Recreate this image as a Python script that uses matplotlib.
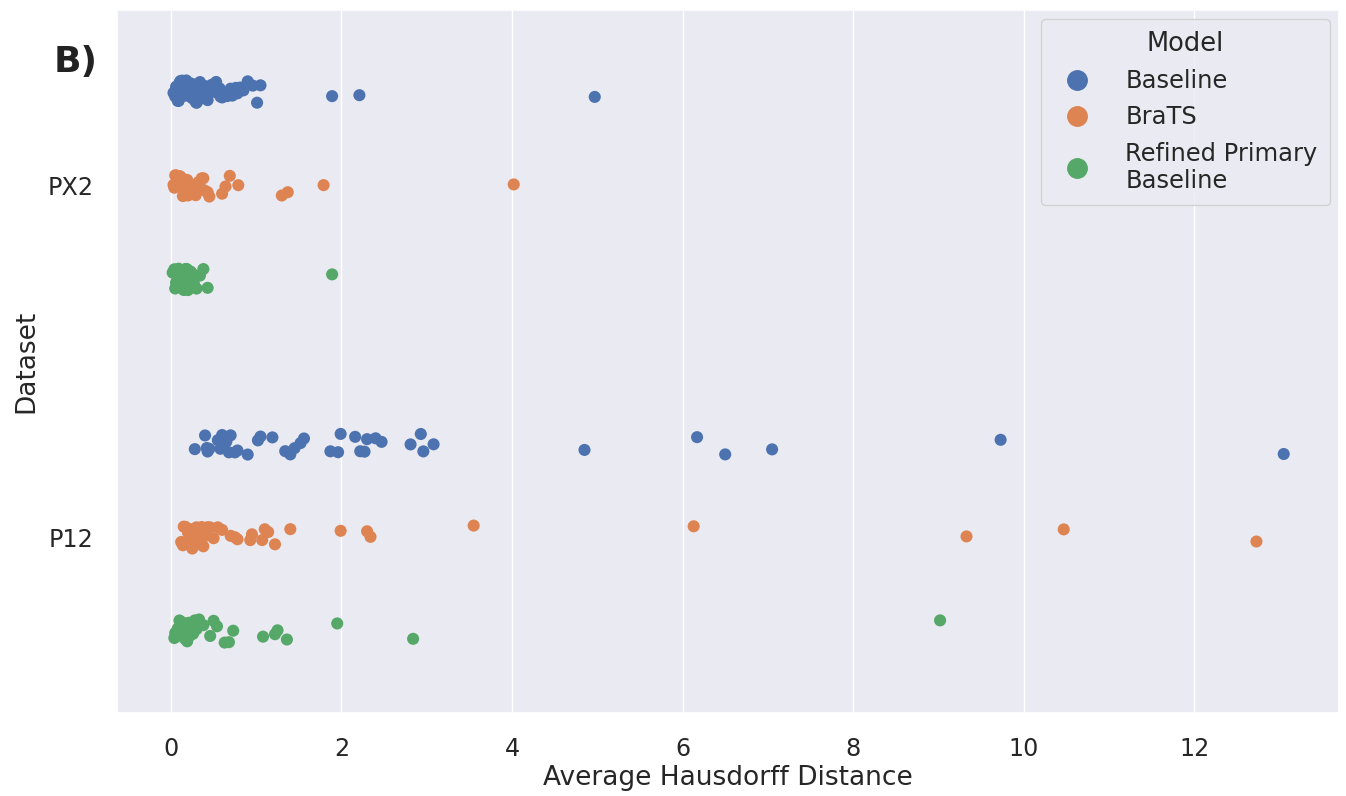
import numpy as np
import pandas as pd
import seaborn as sns
import matplotlib
matplotlib.use("Agg")
from matplotlib import pyplot as plt
from matplotlib.lines import Line2D

# values (Average Hausdorff Distance)
px2_baseline = [0.03, 0.05, 0.06, 0.07, 0.08, 0.09, 0.1, 0.1, 0.11, 0.12, 0.13, 0.14, 0.15,
                0.15, 0.16, 0.17, 0.18, 0.19, 0.2, 0.2, 0.21, 0.22, 0.23, 0.24, 0.25, 0.25,
                0.26, 0.27, 0.28, 0.29, 0.3, 0.3, 0.31, 0.32, 0.33, 0.34, 0.35, 0.35, 0.36,
                0.37, 0.38, 0.39, 0.4, 0.41, 0.42, 0.43, 0.44, 0.45, 0.46, 0.47, 0.48, 0.5,
                0.52, 0.53, 0.55, 0.57, 0.58, 0.6, 0.62, 0.66, 0.7, 0.72, 0.76, 0.78, 0.81,
                0.85, 0.9, 0.96, 1.01, 1.05, 1.89, 2.21, 4.97]
px2_brats = [0.03, 0.04, 0.05, 0.06, 0.07, 0.08, 0.1, 0.11, 0.12, 0.13, 0.14, 0.15, 0.17,
             0.18, 0.19, 0.2, 0.21, 0.22, 0.24, 0.25, 0.26, 0.28, 0.29, 0.3, 0.32, 0.34,
             0.36, 0.38, 0.4, 0.43, 0.45, 0.6, 0.64, 0.69, 0.79, 1.3, 1.37, 1.79, 4.02]
px2_refined = [0.02, 0.03, 0.04, 0.05, 0.06, 0.07, 0.08, 0.09, 0.1, 0.1, 0.11, 0.12, 0.13,
               0.14, 0.15, 0.16, 0.17, 0.18, 0.19, 0.2, 0.21, 0.22, 0.23, 0.25, 0.27, 0.3,
               0.34, 0.38, 0.43, 1.89]
p12_baseline = [0.28, 0.4, 0.42, 0.43, 0.45, 0.55, 0.58, 0.6, 0.62, 0.65, 0.68, 0.7, 0.75,
                0.78, 0.9, 1.02, 1.05, 1.19, 1.34, 1.4, 1.45, 1.52, 1.56, 1.87, 1.96, 1.99,
                2.16, 2.22, 2.27, 2.3, 2.4, 2.47, 2.81, 2.93, 2.96, 3.08, 4.85, 6.17, 6.5,
                7.05, 9.73, 13.05]
p12_brats = [0.12, 0.14, 0.15, 0.17, 0.18, 0.2, 0.22, 0.24, 0.25, 0.27, 0.28, 0.3, 0.33,
             0.36, 0.38, 0.4, 0.43, 0.46, 0.5, 0.55, 0.6, 0.7, 0.75, 0.78, 0.93, 0.95,
             1.07, 1.1, 1.14, 1.22, 1.4, 1.99, 2.3, 2.34, 3.55, 6.13, 9.33, 10.47, 12.73]
p12_refined = [0.04, 0.05, 0.07, 0.08, 0.1, 0.11, 0.12, 0.13, 0.14, 0.15, 0.16, 0.17, 0.18,
               0.19, 0.2, 0.21, 0.22, 0.24, 0.26, 0.28, 0.3, 0.33, 0.38, 0.46, 0.5, 0.54,
               0.63, 0.68, 0.73, 1.08, 1.22, 1.25, 1.36, 1.95, 2.84, 9.02]

datasets = ["PX2", "P12"]
models = ["Baseline", "BraTS", "Refined Primary\nBaseline"]

series = {("PX2", models[0]): px2_baseline, ("PX2", models[1]): px2_brats,
          ("PX2", models[2]): px2_refined, ("P12", models[0]): p12_baseline,
          ("P12", models[1]): p12_brats, ("P12", models[2]): p12_refined}

rows = []
for (ds, m), vals in series.items():
    for v in vals:
        rows.append({"Dataset": ds, "Model": m, "Average Hausdorff Distance": v})
df = pd.DataFrame(rows)

sns.set_theme(style="darkgrid")
plt.rcParams['font.family'] = ['DejaVu Sans']
np.random.seed(3)

fig = plt.figure(figsize=(13.46, 7.96), dpi=100)
ax = fig.add_axes([0.087, 0.104, 0.908, 0.884])
pal = sns.color_palette("deep", 3)
sns.stripplot(data=df, x="Average Hausdorff Distance", y="Dataset", hue="Model",
              order=datasets, hue_order=models, dodge=True, jitter=True,
              palette=pal, size=8.7, ax=ax, legend=False)

ax.set_xticks(range(0, 13, 2))
ax.tick_params(labelsize=17.2, pad=11)
ax.set_xlabel("Average Hausdorff Distance", fontsize=19, labelpad=3)
ax.set_ylabel("Dataset", fontsize=19, labelpad=6)

handles = [Line2D([], [], marker='o', ls='', color=pal[i], markersize=14) for i in range(3)]
leg = ax.legend(handles, models, title="Model", loc="upper right", fontsize=17.4,
                title_fontsize=18.5, handletextpad=1.0, labelspacing=0.5,
                borderaxespad=0.4, borderpad=0.5)

fig.text(0.04, 0.91, "B)", fontsize=26, fontweight="bold", color="#222222")

fig.savefig("out.png", dpi=100)
